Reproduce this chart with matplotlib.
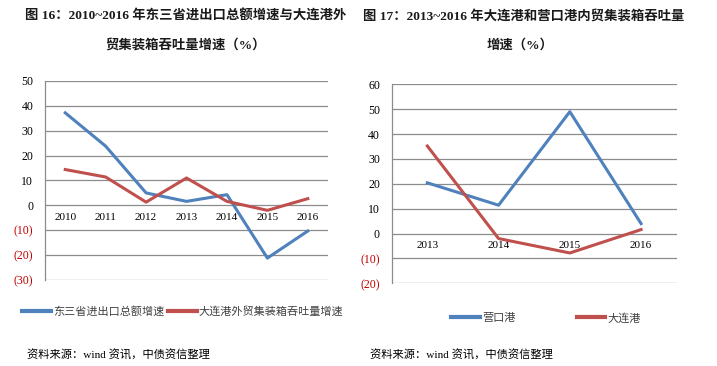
import matplotlib.pyplot as plt
from matplotlib.lines import Line2D

plt.rcParams['font.family'] = ['Liberation Serif', 'Noto Sans CJK SC', 'DejaVu Sans']

# left chart: 2010~2016
years_l = ['2010', '2011', '2012', '2013', '2014', '2015', '2016']
dongsansheng = [37.2, 23.8, 5.0, 1.6, 4.3, -21.2, -10.3]
dalian_wai = [14.4, 11.4, 1.3, 11.0, 1.6, -2.0, 2.7]

# right chart: 2013~2016
years_r = ['2013', '2014', '2015', '2016']
yingkou = [20.4, 11.4, 49.0, 4.0]
dalian_nei = [35.2, -2.0, -7.8, 1.6]

BLUE = '#4F81BD'
RED = '#C0504D'
GRID = '#8C8C8C'
CJK = ['Liberation Serif', 'Noto Sans CJK SC']


def fmt(v):
    return f'({abs(v)})' if v < 0 else f'{v}'


def style_axes(ax, cats, lo, hi):
    ax.set_xlim(-0.5, len(cats) - 0.5)
    ax.set_ylim(lo, hi)
    # move the category axis to y=0 first (this rebuilds the x ticks)
    ax.spines['bottom'].set_position(('data', 0))
    ax.spines['bottom'].set_visible(False)
    ax.spines['top'].set_visible(False)
    ax.spines['right'].set_visible(False)
    ax.spines['left'].set_color(GRID)
    ax.spines['left'].set_linewidth(0.9)

    yt = list(range(lo, hi + 1, 10))
    ax.set_yticks(yt)
    ax.set_yticklabels([fmt(v) for v in yt])
    ax.set_xticks(range(len(cats)))
    ax.set_xticklabels(cats)
    ax.tick_params(axis='x', length=0, pad=5.5, labelsize=8)
    ax.tick_params(axis='y', length=0, pad=8.5, labelsize=8.5)
    for lab, v in zip(ax.get_yticklabels(), yt):
        lab.set_color('#C00000' if v < 0 else 'black')
    ax.yaxis.grid(True, color=GRID, linewidth=0.9)
    ax.set_axisbelow(True)


fig = plt.figure(figsize=(7.17, 3.66), dpi=100)

ax1 = fig.add_axes([0.0628, 0.235, 0.3947, 0.5437])
x1 = range(len(years_l))
ax1.plot(x1, dongsansheng, color=BLUE, linewidth=2.2)
ax1.plot(x1, dalian_wai, color=RED, linewidth=2.2)
style_axes(ax1, years_l, -30, 50)

ax2 = fig.add_axes([0.5463, 0.2259, 0.3975, 0.5437])
x2 = range(len(years_r))
ax2.plot(x2, yingkou, color=BLUE, linewidth=2.2)
ax2.plot(x2, dalian_nei, color=RED, linewidth=2.2)
style_axes(ax2, years_r, -20, 60)

# titles
tkw = dict(fontsize=9.6, fontweight='bold', family=CJK, va='center', color='#1a1a1a')
fig.text(25 / 717, 1 - 16 / 366, '图 16：2010~2016 年东三省进出口总额增速与大连港外',
         ha='left', **tkw)
fig.text(185 / 717, 1 - 45 / 366, '贸集装箱吞吐量增速（%）', ha='center', **tkw)
fig.text(363 / 717, 1 - 16 / 366, '图 17：2013~2016 年大连港和营口港内贸集装箱吞吐量',
         ha='left', **tkw)
fig.text(520 / 717, 1 - 45 / 366, '增速（%）', ha='center', **tkw)

# legends
h_blue = Line2D([], [], color=BLUE, linewidth=3)
h_red = Line2D([], [], color=RED, linewidth=3)
leg_kw = dict(frameon=False, handlelength=2.6, handletextpad=0.2,
              prop={'family': 'Noto Sans CJK SC', 'size': 8}, labelcolor='#404040')
fig.legend([h_blue, h_red], ['东三省进出口总额增速', '大连港外贸集装箱吞吐量增速'],
           loc='center left', bbox_to_anchor=(12 / 717, 1 - 311 / 366), ncol=2,
           columnspacing=0.3, **leg_kw)
fig.legend([h_blue, h_red], ['营口港', '大连港'],
           loc='center left', bbox_to_anchor=(441 / 717, 1 - 318 / 366), ncol=2,
           columnspacing=5.5, **leg_kw)

# sources
fig.text(27 / 717, 1 - 354 / 366, '资料来源：wind 资讯，中债资信整理',
         fontsize=8.1, family=CJK, va='center', ha='left')
fig.text(370 / 717, 1 - 354 / 366, '资料来源：wind 资讯，中债资信整理',
         fontsize=8.1, family=CJK, va='center', ha='left')

fig.savefig('out.png', dpi=100)
